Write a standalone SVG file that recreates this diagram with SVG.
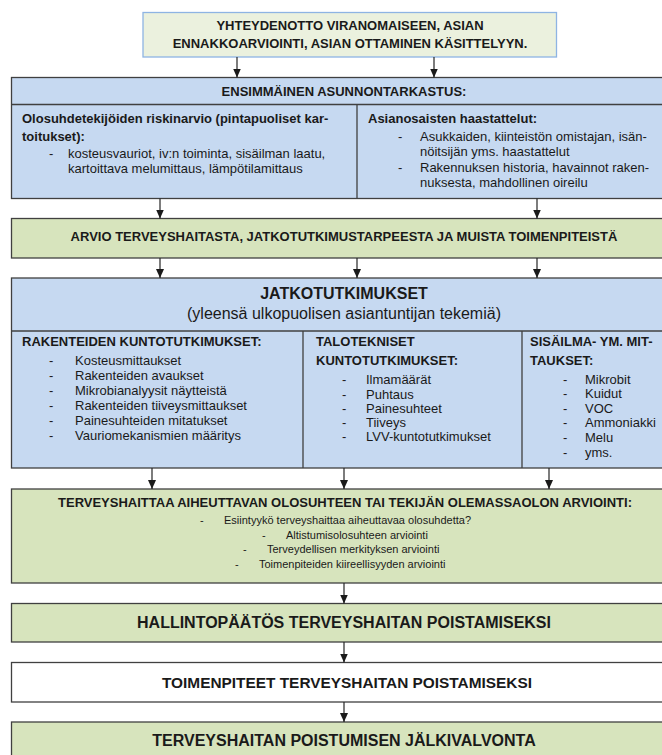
<svg xmlns="http://www.w3.org/2000/svg" width="662" height="755" viewBox="0 0 662 755">
<defs>
<style>
text{font-family:"Liberation Sans",Arial,sans-serif;fill:#1a1a1a}
.b{font-weight:bold}
.s13{font-size:13px}
.s11{font-size:11px}
.c{text-anchor:middle}
.blue{fill:#c6d9f1;stroke:#404040;stroke-width:1.3}
.green{fill:#d7e4bd;stroke:#404040;stroke-width:1.3}
.white{fill:#ffffff;stroke:#404040;stroke-width:1.3}
.div{stroke:#404040;stroke-width:1.3;fill:none}
.arr{stroke:#262626;stroke-width:1.2;fill:none;marker-end:url(#ah)}
</style>
<marker id="ah" markerUnits="userSpaceOnUse" markerWidth="9" markerHeight="8" refX="9" refY="4" orient="auto">
<path d="M0,0 L9,4 L0,8 z" fill="#1a1a1a"/>
</marker>
</defs>
<rect width="662" height="755" fill="#ffffff"/>

<g id="n-yhteydenotto">
<rect x="143" y="12.5" width="413.5" height="44.5" fill="#ebf1de" stroke="#8eb4e3" stroke-width="1.3"/>
<text class="b s13 c" x="350" y="30">YHTEYDENOTTO VIRANOMAISEEN, ASIAN</text>
<text class="b s13 c" x="350" y="48">ENNAKKOARVIOINTI, ASIAN OTTAMINEN KÄSITTELYYN.</text>
</g>

<g id="n-asunnontarkastus">
<rect class="blue" x="11.5" y="77.5" width="666" height="121"/>
<line class="div" x1="11.5" y1="104.5" x2="677.5" y2="104.5"/>
<line class="div" x1="357" y1="104.5" x2="357" y2="198.5"/>
<text class="b s13 c" x="344" y="96">ENSIMMÄINEN ASUNNONTARKASTUS:</text>
<text class="b s13" x="22" y="123">Olosuhdetekijöiden riskinarvio (pintapuoliset kar-</text>
<text class="b s13" x="22" y="140.5">toitukset):</text>
<text class="s13" x="49" y="158">-</text>
<text class="s13" x="68" y="158">kosteusvauriot, iv:n toiminta, sisäilman laatu,</text>
<text class="s13" x="68" y="173">kartoittava melumittaus, lämpötilamittaus</text>
<text class="b s13" x="368" y="123">Asianosaisten haastattelut:</text>
<text class="s13" x="398" y="141">-</text>
<text class="s13" x="420" y="141">Asukkaiden, kiinteistön omistajan, isän-</text>
<text class="s13" x="420" y="156">nöitsijän yms. haastattelut</text>
<text class="s13" x="398" y="172">-</text>
<text class="s13" x="420" y="172">Rakennuksen historia, havainnot raken-</text>
<text class="s13" x="420" y="187">nuksesta, mahdollinen oireilu</text>
</g>

<g id="n-arvio">
<rect class="green" x="11.5" y="218.5" width="666" height="39.5"/>
<text class="b s13 c" x="344" y="241">ARVIO TERVEYSHAITASTA, JATKOTUTKIMUSTARPEESTA JA MUISTA TOIMENPITEISTÄ</text>
</g>

<g id="n-jatkotutkimukset">
<rect class="blue" x="11.5" y="278" width="666" height="190"/>
<line class="div" x1="11.5" y1="331" x2="677.5" y2="331"/>
<line class="div" x1="303" y1="331" x2="303" y2="468"/>
<line class="div" x1="522" y1="331" x2="522" y2="468"/>
<text class="b c" x="344" y="299" font-size="16">JATKOTUTKIMUKSET</text>
<text class="c" x="344" y="319" font-size="16">(yleensä ulkopuolisen asiantuntijan tekemiä)</text>
<text class="b s13" x="22" y="346">RAKENTEIDEN KUNTOTUTKIMUKSET:</text>
<text class="s13" x="49" y="365">-</text><text class="s13" x="75" y="365">Kosteusmittaukset</text>
<text class="s13" x="49" y="380">-</text><text class="s13" x="75" y="380">Rakenteiden avaukset</text>
<text class="s13" x="49" y="395">-</text><text class="s13" x="75" y="395">Mikrobianalyysit näytteistä</text>
<text class="s13" x="49" y="410">-</text><text class="s13" x="75" y="410">Rakenteiden tiiveysmittaukset</text>
<text class="s13" x="49" y="425">-</text><text class="s13" x="75" y="425">Painesuhteiden mitatukset</text>
<text class="s13" x="49" y="440">-</text><text class="s13" x="75" y="440">Vauriomekanismien määritys</text>
<text class="b s13" x="316" y="346">TALOTEKNISET</text>
<text class="b s13" x="316" y="365">KUNTOTUTKIMUKSET:</text>
<text class="s13" x="342" y="384">-</text><text class="s13" x="366" y="384">Ilmamäärät</text>
<text class="s13" x="342" y="399">-</text><text class="s13" x="366" y="399">Puhtaus</text>
<text class="s13" x="342" y="413">-</text><text class="s13" x="366" y="413">Painesuhteet</text>
<text class="s13" x="342" y="427">-</text><text class="s13" x="366" y="427">Tiiveys</text>
<text class="s13" x="342" y="441">-</text><text class="s13" x="366" y="441">LVV-kuntotutkimukset</text>
<text class="b s13" x="530" y="346">SISÄILMA- YM. MIT-</text>
<text class="b s13" x="530" y="365">TAUKSET:</text>
<text class="s13" x="563" y="384">-</text><text class="s13" x="585" y="384">Mikrobit</text>
<text class="s13" x="563" y="398">-</text><text class="s13" x="585" y="398">Kuidut</text>
<text class="s13" x="563" y="413">-</text><text class="s13" x="585" y="413">VOC</text>
<text class="s13" x="563" y="427">-</text><text class="s13" x="585" y="427">Ammoniakki</text>
<text class="s13" x="563" y="442">-</text><text class="s13" x="585" y="442">Melu</text>
<text class="s13" x="563" y="457">-</text><text class="s13" x="585" y="457">yms.</text>
</g>

<g id="n-arviointi">
<rect class="green" x="11.5" y="489" width="666" height="94"/>
<text class="b s13 c" x="345" y="507">TERVEYSHAITTAA AIHEUTTAVAN OLOSUHTEEN TAI TEKIJÄN OLEMASSAOLON ARVIOINTI:</text>
<text class="s11" x="200" y="524">-</text><text class="s11" x="224" y="524">Esiintyykö terveyshaittaa aiheuttavaa olosuhdetta?</text>
<text class="s11" x="262" y="539">-</text><text class="s11" x="286" y="539">Altistumisolosuhteen arviointi</text>
<text class="s11" x="243" y="553">-</text><text class="s11" x="267" y="553">Terveydellisen merkityksen arviointi</text>
<text class="s11" x="235" y="568">-</text><text class="s11" x="259" y="568">Toimenpiteiden kiireellisyyden arviointi</text>
</g>

<g id="n-hallintopaatos">
<rect class="green" x="11.5" y="603.5" width="666" height="38.5"/>
<text class="b c" x="344" y="628" font-size="16">HALLINTOPÄÄTÖS TERVEYSHAITAN POISTAMISEKSI</text>
</g>

<g id="n-toimenpiteet">
<rect class="white" x="11.5" y="662.5" width="666" height="39.5"/>
<text class="b c" x="347" y="688" font-size="15.4">TOIMENPITEET TERVEYSHAITAN POISTAMISEKSI</text>
</g>

<g id="n-jalkivalvonta">
<rect class="green" x="11.5" y="722" width="666" height="60"/>
<text class="b c" x="344" y="746" font-size="16">TERVEYSHAITAN POISTUMISEN JÄLKIVALVONTA</text>
</g>

<g id="connectors">
<path class="arr" d="M237,57 V77.5"/>
<path class="arr" d="M434,57 V77.5"/>
<path class="arr" d="M160,198.5 V218.5"/>
<path class="arr" d="M537,198.5 V218.5"/>
<path class="arr" d="M160,258 V278"/>
<path class="arr" d="M357,258 V278"/>
<path class="arr" d="M537,258 V278"/>
<path class="arr" d="M152,468 V489"/>
<path class="arr" d="M344,468 V489"/>
<path class="arr" d="M549,468 V489"/>
<path class="arr" d="M344,583 V603.5"/>
<path class="arr" d="M344,642 V662.5"/>
<path class="arr" d="M344,702 V722"/>
</g>
</svg>
